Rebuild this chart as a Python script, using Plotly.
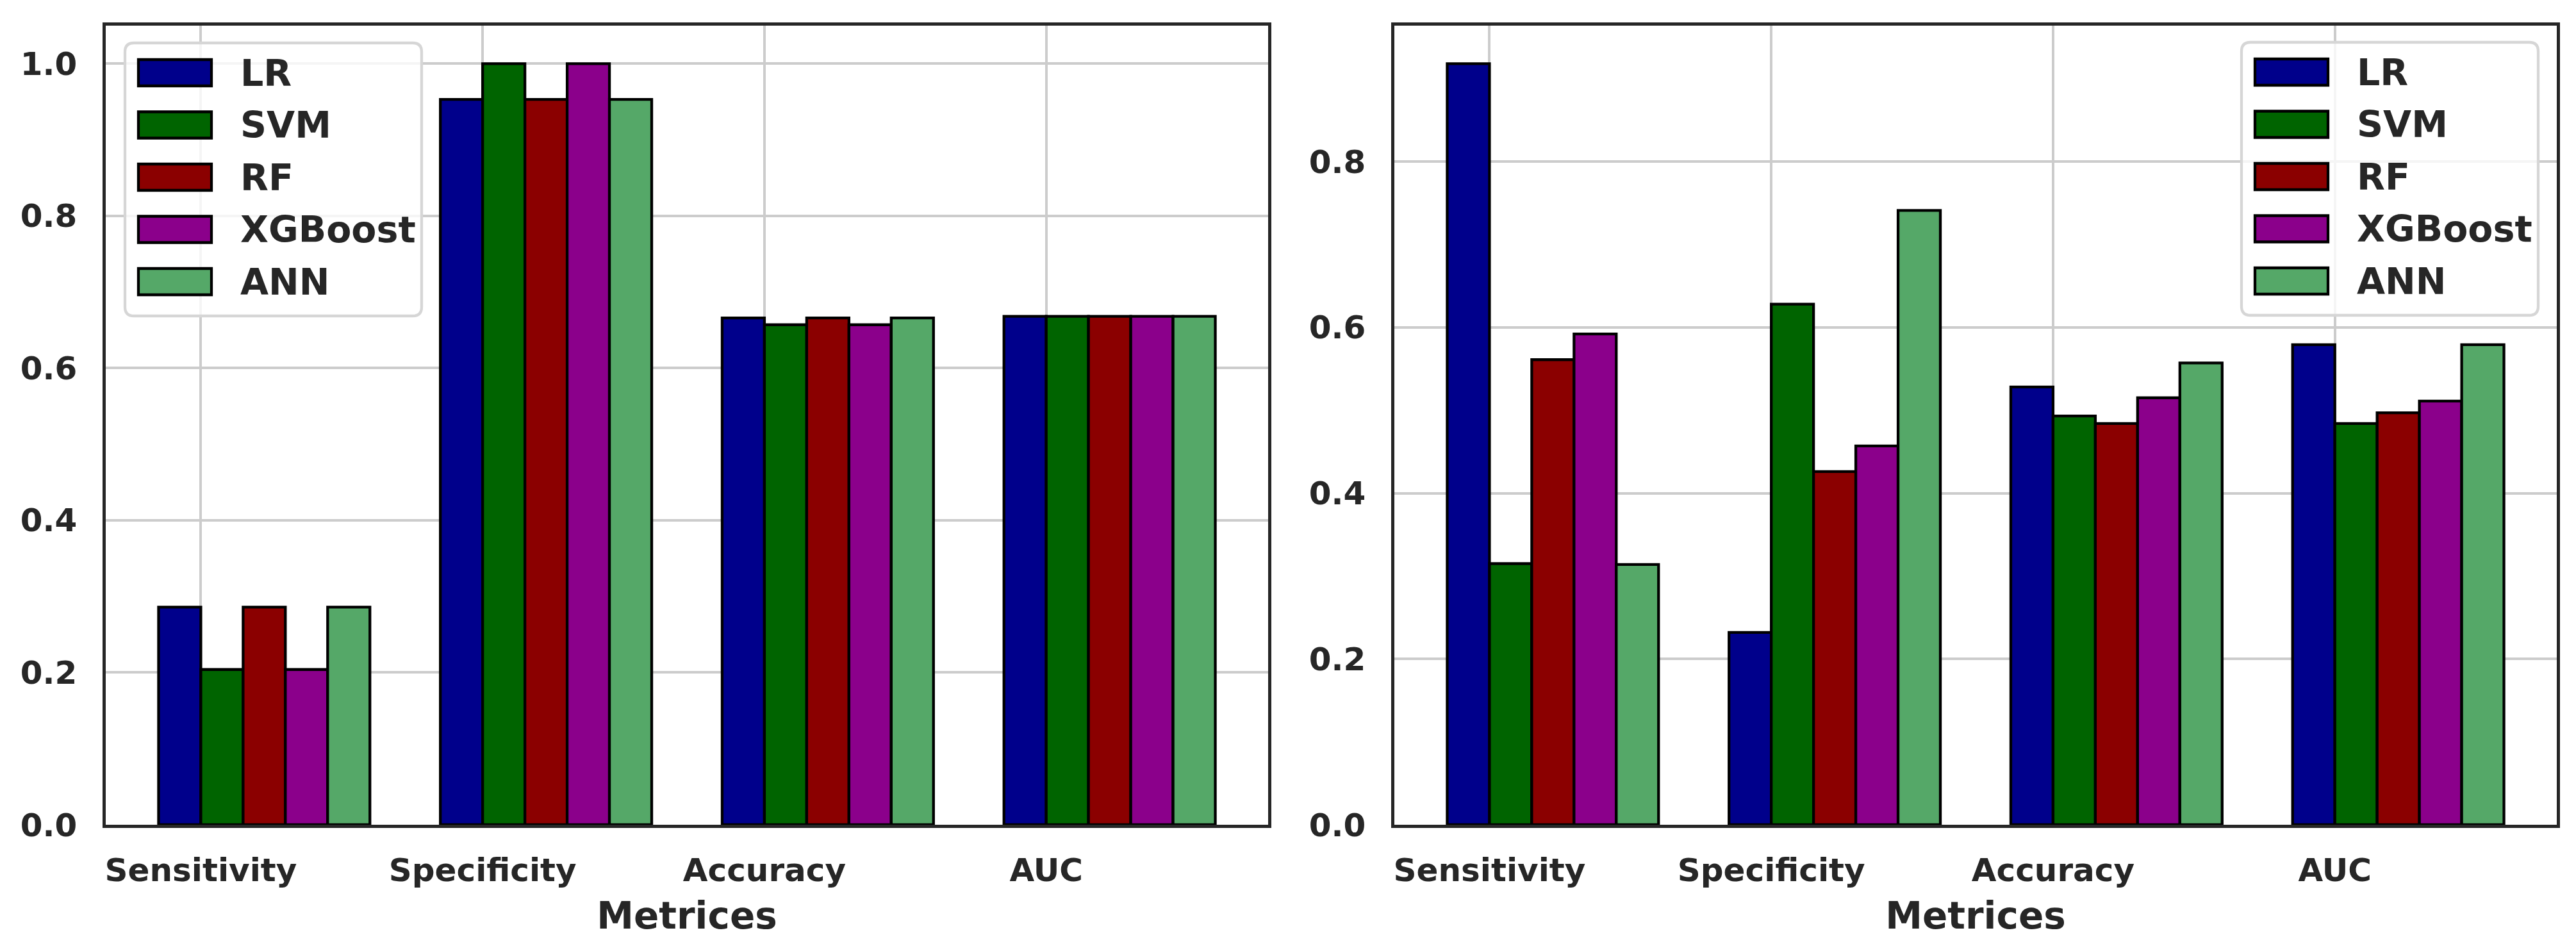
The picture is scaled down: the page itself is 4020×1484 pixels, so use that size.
import plotly.graph_objects as go
from plotly.subplots import make_subplots

# ---------------- data ----------------
categories = ["Sensitivity", "Specificity", "Accuracy", "AUC"]
models = ["LR", "SVM", "RF", "XGBoost", "ANN"]
colors = ["#00008B", "#006400", "#8B0000", "#8B008B", "#55A868"]

left_LR = [0.286, 0.953, 0.666, 0.668]
left_SVM = [0.204, 1.000, 0.657, 0.668]
left_RF = [0.286, 0.953, 0.666, 0.668]
left_XGBoost = [0.204, 1.000, 0.657, 0.668]
left_ANN = [0.286, 0.953, 0.666, 0.668]

right_LR = [0.918, 0.232, 0.528, 0.579]
right_SVM = [0.315, 0.628, 0.493, 0.484]
right_RF = [0.561, 0.426, 0.484, 0.497]
right_XGBoost = [0.592, 0.457, 0.515, 0.511]
right_ANN = [0.314, 0.741, 0.557, 0.579]

left_values = [left_LR, left_SVM, left_RF, left_XGBoost, left_ANN]
right_values = [right_LR, right_SVM, right_RF, right_XGBoost, right_ANN]

y_ticks_left = [0.0, 0.2, 0.4, 0.6, 0.8, 1.0]
y_ticks_right = [0.0, 0.2, 0.4, 0.6, 0.8]

# ---------------- layout constants ----------------
W, H = 4020, 1484
BAR_W = 0.15
FONT = "DejaVu Sans"
TXT = "#262626"
GRID = "#cccccc"

def px(x):
    return x / W

def py(y):
    return 1 - y / H

fig = make_subplots(rows=1, cols=2)

for col, vals in ((1, left_values), (2, right_values)):
    for k, (name, c, v) in enumerate(zip(models, colors, vals)):
        fig.add_trace(
            go.Bar(
                x=categories, y=v, name=name,
                width=BAR_W, offset=(k - 1) * BAR_W,
                marker=dict(color=c, line=dict(color="black", width=4.3)),
                showlegend=False,
            ),
            row=1, col=col,
        )

ymax_left = max(max(v) for v in left_values) * 1.05
ymax_right = max(max(v) for v in right_values) * 1.05
n = len(categories)
x_lo = -BAR_W - 0.05 * (n - 1 + 5 * BAR_W)
x_hi = (n - 1) + 4 * BAR_W + 0.05 * (n - 1 + 5 * BAR_W)

tickfont = dict(family=FONT, size=50, color=TXT, weight="bold")
axis_common = dict(
    showline=True, linecolor=TXT, linewidth=4.5, mirror=True,
    showgrid=True, gridcolor=GRID, gridwidth=4.2,
    zeroline=False, ticks="", tickfont=tickfont, automargin=False,
)
title_font = dict(family=FONT, size=58, color=TXT, weight="bold")

y_top, y_bot = 40, 1287
fig.update_layout(
    width=W, height=H,
    margin=dict(l=0, r=0, t=0, b=0, autoexpand=False),
    paper_bgcolor="white", plot_bgcolor="white",
    barmode="overlay",
    xaxis=dict(domain=[px(165), px(1979)], type="category", range=[x_lo, x_hi],
               ticklabelstandoff=23,
               title=dict(text="Metrices", standoff=24, font=title_font),
               **axis_common),
    xaxis2=dict(domain=[px(2176), px(3990)], type="category", range=[x_lo, x_hi],
                ticklabelstandoff=23,
                title=dict(text="Metrices", standoff=24, font=title_font),
                **axis_common),
    yaxis=dict(domain=[py(y_bot), py(y_top)], range=[0, ymax_left],
               tickvals=y_ticks_left, tickformat=".1f", ticklabelstandoff=30,
               **axis_common),
    yaxis2=dict(domain=[py(y_bot), py(y_top)], range=[0, ymax_right],
                tickvals=y_ticks_right, tickformat=".1f", ticklabelstandoff=30,
                **axis_common),
)

# ---------------- legends (matplotlib style) ----------------
def rounded_rect(x0, y0, x1, y1, r):
    X0, X1 = px(x0), px(x1)
    Y0, Y1 = py(y0), py(y1)
    rx, ry = r / W, r / H
    return (f"M{X0 + rx},{Y0} L{X1 - rx},{Y0} Q{X1},{Y0} {X1},{Y0 - ry} "
            f"L{X1},{Y1 + ry} Q{X1},{Y1} {X1 - rx},{Y1} "
            f"L{X0 + rx},{Y1} Q{X0},{Y1} {X0},{Y1 + ry} "
            f"L{X0},{Y0 - ry} Q{X0},{Y0} {X0 + rx},{Y0} Z")

def add_legend(box_left, box_top):
    box_w, box_h = 463, 426
    fig.add_shape(type="path", xref="paper", yref="paper",
                  path=rounded_rect(box_left, box_top, box_left + box_w, box_top + box_h, 14),
                  line=dict(color="#d6d6d6", width=4.3),
                  fillcolor="rgba(255,255,255,0.8)", layer="above")
    for i, (name, c) in enumerate(zip(models, colors)):
        cy = box_top + 46.5 + i * 81.5
        fig.add_shape(type="rect", xref="paper", yref="paper",
                      x0=px(box_left + 21), x1=px(box_left + 135),
                      y0=py(cy - 20.5), y1=py(cy + 20.5),
                      line=dict(color="black", width=4.3), fillcolor=c, layer="above")
        fig.add_annotation(xref="paper", yref="paper",
                           x=px(box_left + 178), y=py(cy), xanchor="left", yanchor="middle",
                           text=name, showarrow=False,
                           font=dict(family=FONT, size=57, color=TXT, weight="bold"))

add_legend(195, 67)
add_legend(3498, 66)

fig.write_html(
    "out.html",
    config={"displayModeBar": False},
    post_script="document.body.style.margin='0';document.body.style.overflow='hidden';",
)
